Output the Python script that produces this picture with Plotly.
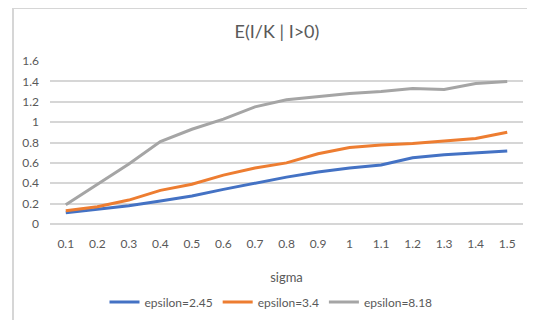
import plotly.graph_objects as go

sigma = ["0.1", "0.2", "0.3", "0.4", "0.5", "0.6", "0.7", "0.8", "0.9", "1",
         "1.1", "1.2", "1.3", "1.4", "1.5"]
eps_245 = [0.11, 0.144, 0.18, 0.225, 0.275, 0.34, 0.40, 0.46, 0.51, 0.55,
           0.58, 0.65, 0.68, 0.70, 0.716]
eps_34 = [0.13, 0.17, 0.235, 0.33, 0.39, 0.48, 0.55, 0.60, 0.69, 0.75,
          0.775, 0.79, 0.815, 0.84, 0.90]
eps_818 = [0.19, 0.39, 0.59, 0.81, 0.93, 1.03, 1.15, 1.22, 1.25, 1.28,
           1.30, 1.33, 1.32, 1.38, 1.40]
y_ticks = [0, 0.2, 0.4, 0.6, 0.8, 1, 1.2, 1.4, 1.6]
y_labels = ["0", "0.2", "0.4", "0.6", "0.8", "1", "1.2", "1.4", "1.6"]

# page has an 8px body margin; work in page pixels, convert to figure pixels
OFF = 8
W, H = 535 - OFF, 320 - OFF
L, R, T, B = 50 - OFF, 535 - 523, 61 - OFF, 320 - 224
pw, ph = W - L - R, H - T - B

def px_x(p):  # page pixel -> paper x
    return (p - OFF - L) / pw

def px_y(p):  # page pixel -> paper y
    return (H - B - (p - OFF)) / ph

FONT = "Lato, Carlito, Calibri, sans-serif"
TXT = "#595959"
GRID = "#D6D6D6"

fig = go.Figure()
for name, vals, col in [("epsilon=2.45", eps_245, "#4472C4"),
                        ("epsilon=3.4", eps_34, "#ED7D31"),
                        ("epsilon=8.18", eps_818, "#A5A5A5")]:
    fig.add_trace(go.Scatter(x=sigma, y=vals, mode="lines", name=name,
                             line=dict(color=col, width=3)))

fig.update_layout(
    width=W, height=H,
    margin=dict(l=L, r=R, t=T, b=B, pad=0, autoexpand=False),
    paper_bgcolor="white", plot_bgcolor="white",
    font=dict(family=FONT, color=TXT, size=12),
    title=dict(text="E(I/K | I>0)", font=dict(size=18, color=TXT, family=FONT),
               xref="paper", x=px_x(277), xanchor="center",
               yref="container", y=1 - (32 - OFF) / H, yanchor="middle"),
    xaxis=dict(type="category", range=[-0.5, len(sigma) - 0.5],
               showgrid=False, showline=False, zeroline=False, automargin=False,
               ticks="", tickfont=dict(size=12, color=TXT), ticklabelstandoff=11,
               title=dict(text="sigma", font=dict(size=13, color=TXT), standoff=22)),
    yaxis=dict(range=[0, 1.6], tickmode="array", tickvals=y_ticks, ticktext=y_labels,
               showgrid=True, gridcolor=GRID, gridwidth=2, zeroline=True,
               zerolinecolor=GRID, zerolinewidth=2,
               showline=False, ticks="", ticklabelstandoff=10, automargin=False,
               tickfont=dict(size=12, color=TXT)),
    legend=dict(orientation="h", xref="paper", x=px_x(271), xanchor="center",
                yref="container", y=1 - (302 - OFF) / H, yanchor="middle",
                font=dict(size=12, color=TXT, family=FONT),
                itemwidth=30, tracegroupgap=0),
    showlegend=True,
    shapes=[
        dict(type="line", xref="paper", yref="paper", layer="below",
             x0=px_x(13), x1=px_x(540), y0=px_y(8), y1=px_y(8),
             line=dict(color=GRID, width=2)),
        dict(type="line", xref="paper", yref="paper", layer="below",
             x0=px_x(13), x1=px_x(13), y0=px_y(8), y1=px_y(330),
             line=dict(color=GRID, width=2)),
    ],
)

fig.write_html("out.html")
